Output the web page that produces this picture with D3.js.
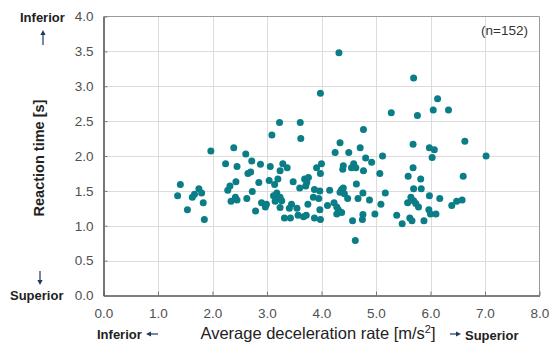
<!DOCTYPE html>
<html>
<head>
<meta charset="utf-8">
<script src="https://cdn.jsdelivr.net/npm/d3@7/dist/d3.min.js"></script>
<style>
  body { margin: 0; background: #fff; }
  svg { display: block; font-family: "Liberation Sans", Arial, sans-serif; }
</style>
</head>
<body>
<svg id="chart" width="554" height="353"></svg>
<script>
// Average deceleration rate [m/s2] per driver
const decel = [
  4.32, 5.69, 3.98, 6.13, 5.28, 5.76, 6.05, 6.33, 3.09, 3.23, 3.61, 4.77, 3.62, 6.63,
  1.97, 2.24, 1.41, 1.36, 1.75, 1.67, 1.63, 1.80, 1.83, 1.54, 1.85,
  2.39, 2.61, 2.45, 2.72, 2.88, 2.65, 2.70, 3.06, 3.29, 3.24, 3.04, 3.20, 3.14, 2.43,
  2.85, 2.32, 2.28, 2.73, 2.42, 2.45, 2.34, 2.63, 2.90, 2.97, 2.99, 2.79, 3.12, 3.18,
  3.20, 3.15, 3.24, 3.27, 3.32,
  4.34, 4.25, 4.50, 4.71, 4.81, 4.92, 5.12, 4.77, 5.07, 3.37, 3.91, 4.00, 3.98, 4.40,
  4.39, 4.55, 4.59, 4.63, 3.48, 3.69, 3.76, 3.73, 3.71, 3.60, 3.87, 3.97, 4.15, 4.37,
  4.40, 4.34, 4.42, 4.64, 4.76, 5.17, 3.85, 3.95, 3.75, 3.45, 3.41, 3.55, 4.11, 4.23,
  4.28, 4.31, 4.28, 4.37, 4.48, 4.67, 4.88, 5.09, 3.97, 3.87, 3.98, 3.72, 3.67, 3.57,
  3.43, 4.76, 4.75, 4.57, 4.62, 4.98, 3.24,
  5.68, 5.98, 6.07, 6.03, 7.02, 5.68, 5.59, 5.82, 6.60, 5.69, 5.83, 5.64, 5.58, 5.69,
  5.73, 5.78, 5.98, 6.17, 6.39, 6.48, 6.58, 5.97, 6.00, 6.10, 5.38, 5.62, 5.66, 5.48, 5.88
];
// Reaction time [s], same order
const reaction = [
  3.48, 3.12, 2.90, 2.82, 2.62, 2.58, 2.66, 2.66, 2.30, 2.48, 2.48, 2.38, 2.25, 2.21,
  2.07, 1.89, 1.59, 1.43, 1.53, 1.45, 1.41, 1.47, 1.33, 1.23, 1.09,
  2.12, 2.03, 1.85, 1.93, 1.88, 1.75, 1.77, 1.85, 1.89, 1.79, 1.65, 1.67, 1.59, 1.63,
  1.62, 1.57, 1.51, 1.49, 1.41, 1.37, 1.35, 1.39, 1.33, 1.27, 1.31, 1.21, 1.43, 1.47,
  1.39, 1.35, 1.41, 1.36, 1.11,
  2.19, 2.05, 2.05, 2.12, 1.97, 1.91, 2.00, 1.79, 1.75, 1.83, 1.83, 1.89, 1.75, 1.86,
  1.81, 1.83, 1.89, 1.83, 1.63, 1.67, 1.69, 1.62, 1.57, 1.54, 1.52, 1.50, 1.51, 1.52,
  1.54, 1.48, 1.46, 1.60, 1.47, 1.47, 1.41, 1.39, 1.31, 1.31, 1.25, 1.25, 1.29, 1.33,
  1.27, 1.23, 1.17, 1.19, 1.39, 1.39, 1.37, 1.31, 1.23, 1.11, 1.09, 1.15, 1.13, 1.15,
  1.11, 1.16, 1.09, 1.07, 0.79, 1.17, 1.26,
  2.17, 2.12, 2.09, 1.98, 2.00, 1.83, 1.71, 1.67, 1.71, 1.53, 1.53, 1.41, 1.33, 1.36,
  1.32, 1.27, 1.43, 1.39, 1.29, 1.35, 1.37, 1.23, 1.17, 1.17, 1.15, 1.11, 1.07, 1.03, 1.07
];
const xTicks = [0, 1, 2, 3, 4, 5, 6, 7, 8];
const yTicks = [0, 0.5, 1, 1.5, 2, 2.5, 3, 3.5, 4];
const sampleLabel = "(n=152)";

const points = decel.map((d, i) => ({ x: d, y: reaction[i] }));

const svg = d3.select('#chart');
const plotLeft = 103.5, plotRight = 539.5, plotTop = 16.5, plotBottom = 295.5;

const x = d3.scaleLinear().domain([0, 8]).range([plotLeft, plotRight]);
const y = d3.scaleLinear().domain([0, 4]).range([plotBottom, plotTop]);

// grid
const grid = svg.append('g').attr('class', 'grid');
grid.selectAll('.vg')
  .data(xTicks.slice(1, -1))
  .join('line')
  .attr('x1', d => Math.round(x(d)) + 0.5).attr('x2', d => Math.round(x(d)) + 0.5)
  .attr('y1', plotTop).attr('y2', plotBottom)
  .attr('stroke', '#dcdcdc').attr('stroke-width', 1);
grid.selectAll('.hg')
  .data(yTicks.slice(1, -1))
  .join('line')
  .attr('y1', d => Math.round(y(d)) + 0.5).attr('y2', d => Math.round(y(d)) + 0.5)
  .attr('x1', plotLeft).attr('x2', plotRight)
  .attr('stroke', '#dcdcdc').attr('stroke-width', 1);

// frame: light on top / right
svg.append('path')
  .attr('d', `M${plotLeft},${plotTop}H${plotRight}V${plotBottom}`)
  .attr('fill', 'none')
  .attr('stroke', '#9a9a9a')
  .attr('stroke-width', 1);

// axes with inward ticks
const xAxis = svg.append('g')
  .attr('transform', `translate(0,${plotBottom})`)
  .call(d3.axisBottom(x).tickValues(xTicks).tickFormat(d3.format('.1f'))
    .tickSizeInner(-4).tickSizeOuter(0).tickPadding(13));
const yAxis = svg.append('g')
  .attr('transform', `translate(${plotLeft},0)`)
  .call(d3.axisLeft(y).tickValues(yTicks).tickFormat(d3.format('.1f'))
    .tickSizeInner(-4).tickSizeOuter(0).tickPadding(10));

[xAxis, yAxis].forEach(a => {
  a.select('.domain').attr('stroke', '#555').attr('stroke-width', 1.6);
  a.selectAll('.tick line').attr('stroke', '#777');
  a.selectAll('.tick text')
    .attr('fill', '#505050')
    .style('font-size', '13.5px')
    .style('font-family', '"Liberation Sans", Arial, sans-serif');
});

// dots
svg.append('g')
  .selectAll('circle')
  .data(points)
  .join('circle')
  .attr('cx', d => x(d.x))
  .attr('cy', d => y(d.y))
  .attr('r', 3.5)
  .attr('fill', '#0a7d87');

// sample size
svg.append('text')
  .attr('x', 528).attr('y', 35)
  .attr('text-anchor', 'end')
  .style('font-size', '13.5px')
  .attr('fill', '#333')
  .text(sampleLabel);

// axis titles
svg.append('text')
  .attr('transform', `translate(44,158) rotate(-90)`)
  .attr('text-anchor', 'middle')
  .style('font-size', '14.5px')
  .style('font-weight', 'bold')
  .attr('fill', '#222')
  .text('Reaction time [s]');

svg.append('text')
  .attr('x', 318).attr('y', 339)
  .attr('text-anchor', 'middle')
  .style('font-size', '16.5px')
  .attr('fill', '#222')
  .html('Average deceleration rate [m/s<tspan dy="-6" font-size="11px">2</tspan><tspan dy="6">]</tspan>');

// direction hints
const hint = (tx, ty, txt) => svg.append('text')
  .attr('x', tx).attr('y', ty)
  .style('font-size', '13px')
  .style('font-weight', 'bold')
  .attr('fill', '#222')
  .text(txt);

// thin arrows: shaft from (x1,y1) to tip (x2,y2) with a small filled head
const arrow = (x1, y1, x2, y2) => {
  const ang = Math.atan2(y2 - y1, x2 - x1);
  const hl = 5, hw = 2.6;
  const bx = x2 - hl * Math.cos(ang), by = y2 - hl * Math.sin(ang);
  const px = -Math.sin(ang) * hw, py = Math.cos(ang) * hw;
  svg.append('line')
    .attr('x1', x1).attr('y1', y1).attr('x2', bx).attr('y2', by)
    .attr('stroke', '#1f3864').attr('stroke-width', 1.2);
  svg.append('path')
    .attr('d', `M${x2},${y2}L${bx + px},${by + py}L${bx - px},${by - py}Z`)
    .attr('fill', '#1f3864');
};

hint(20, 22, 'Inferior');
arrow(43, 45, 43, 30);
arrow(40, 271, 40, 285);
hint(10, 300, 'Superior');
hint(97, 339, 'Inferior');
arrow(158, 334, 146, 334);
arrow(450, 334, 461, 334);
hint(465, 340, 'Superior');
</script>
</body>
</html>
